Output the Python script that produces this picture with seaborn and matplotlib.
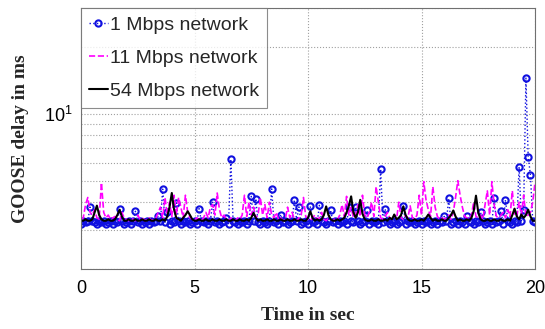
import numpy as np
import pandas as pd
import matplotlib
matplotlib.use("Agg")
import matplotlib.pyplot as plt
import seaborn as sns
from matplotlib.ticker import LogLocator, NullFormatter, FixedLocator, FixedFormatter

# ---------------- data (GOOSE delay in ms, sampled every 0.1 s) ----------------
sample_step = 0.1
delay_1mbps = [
    3.2, 3.3, 3.25, 3.3, 3.8, 3.3, 3.25, 3.2, 3.3, 3.25,
    3.3, 3.2, 3.25, 3.3, 3.2, 3.3, 3.25, 3.73, 3.3, 3.2,
    3.25, 3.3, 3.2, 3.3, 3.64, 3.25, 3.3, 3.2, 3.25, 3.3,
    3.2, 3.3, 3.25, 3.3, 3.45, 3.3, 4.58, 3.25, 3.6, 3.2,
    3.3, 3.25, 3.97, 3.3, 3.2, 3.3, 3.25, 3.3, 3.2, 3.25,
    3.3, 3.2, 3.74, 3.3, 3.25, 3.3, 3.2, 3.3, 4.0, 3.25,
    3.3, 3.2, 3.25, 3.3, 3.38, 3.2, 6.24, 3.3, 3.25, 3.2,
    3.3, 3.25, 3.3, 3.2, 3.3, 4.25, 3.3, 4.15, 3.25, 3.2,
    3.3, 3.25, 3.2, 3.3, 4.59, 3.25, 3.3, 3.2, 3.52, 3.25,
    3.3, 3.2, 3.25, 3.3, 4.1, 3.3, 3.81, 3.2, 3.25, 3.3,
    3.2, 3.83, 3.25, 3.3, 3.2, 3.87, 3.3, 3.25, 3.2, 3.3,
    3.68, 3.25, 3.3, 3.2, 3.3, 3.25, 3.3, 3.2, 3.81, 3.3,
    3.25, 3.81, 3.3, 3.2, 3.25, 3.3, 3.67, 3.2, 3.3, 3.25,
    3.3, 3.2, 5.64, 3.25, 3.73, 3.3, 3.2, 3.25, 3.3, 3.2,
    3.25, 3.3, 3.83, 3.2, 3.3, 3.25, 3.3, 3.2, 3.25, 3.3,
    3.2, 3.3, 3.25, 3.3, 3.2, 3.25, 3.3, 3.2, 3.3, 3.25,
    3.45, 3.3, 4.16, 3.2, 3.25, 3.3, 3.2, 3.3, 3.25, 3.2,
    3.45, 3.3, 3.25, 3.2, 3.3, 3.25, 3.6, 3.3, 3.2, 3.25,
    3.3, 3.2, 4.16, 3.25, 3.3, 3.64, 3.2, 4.1, 3.3, 3.25,
    3.2, 3.3, 3.25, 5.78, 3.3, 3.7, 14.5, 6.4, 5.3, 3.3,
    3.25,
]
delay_11mbps = [
    3.35, 3.4, 3.9, 4.2, 3.6, 3.5, 3.7, 3.4, 3.35, 4.9,
    3.6, 3.4, 3.5, 3.35, 3.4, 3.45, 3.35, 3.3, 3.6, 3.4,
    3.35, 3.3, 3.4, 3.35, 3.3, 3.5, 3.35, 3.4, 3.3, 3.35,
    3.4, 3.3, 3.35, 3.4, 3.6, 3.8, 3.4, 4.2, 3.5, 4.0,
    3.45, 4.3, 3.5, 4.2, 3.8, 3.4, 4.3, 3.6, 3.4, 3.35,
    3.3, 3.4, 3.35, 3.3, 3.4, 3.6, 3.4, 3.8, 3.9, 3.5,
    4.4, 3.7, 3.4, 3.5, 3.35, 3.3, 3.4, 3.35, 3.3, 3.4,
    3.35, 3.5, 4.3, 3.45, 4.0, 3.5, 3.8, 3.4, 3.5, 4.2,
    3.5, 3.9, 3.4, 4.0, 3.5, 3.4, 3.6, 3.35, 3.4, 3.3,
    3.35, 3.8, 3.4, 3.6, 3.35, 3.3, 3.4, 3.5, 4.2, 3.45,
    3.35, 3.3, 3.4, 3.5, 3.35, 3.4, 3.6, 3.35, 3.3, 3.4,
    3.35, 3.3, 3.4, 3.35, 3.5, 3.9, 3.45, 4.25, 3.5, 3.8,
    3.4, 3.5, 3.9, 3.45, 4.3, 3.5, 3.4, 3.6, 4.0, 3.45,
    4.7, 4.0, 3.4, 3.35, 3.45, 3.6, 3.4, 3.35, 3.5, 3.35,
    4.0, 3.4, 3.35, 3.5, 3.4, 3.85, 3.4, 3.35, 3.5, 4.3,
    3.5, 4.95, 4.1, 3.7, 3.45, 4.7, 3.8, 3.45, 3.35, 3.4,
    3.35, 3.4, 3.5, 3.35, 3.6, 4.2, 5.0, 4.3, 3.8, 3.45,
    3.4, 3.35, 3.5, 4.0, 3.45, 3.4, 3.5, 3.35, 3.9, 4.5,
    3.5, 4.95, 3.9, 3.45, 3.4, 3.5, 3.6, 3.4, 3.7, 3.45,
    4.5, 3.5, 3.45, 4.0, 3.5, 4.3, 3.45, 3.5, 3.6, 4.0,
    4.9,
]
delay_54mbps = [
    3.3, 3.3, 3.35, 3.3, 3.3, 3.35, 3.6, 3.86, 3.5, 3.35,
    3.3, 3.3, 3.35, 3.3, 3.3, 3.35, 3.5, 3.7, 3.45, 3.3,
    3.3, 3.35, 3.3, 3.3, 3.35, 3.3, 3.3, 3.35, 3.3, 3.3,
    3.35, 3.3, 3.3, 3.35, 3.3, 3.3, 3.35, 3.3, 3.45, 3.8,
    4.4, 3.7, 3.4, 3.35, 3.3, 3.4, 3.5, 3.64, 3.5, 3.35,
    3.3, 3.3, 3.35, 3.3, 3.3, 3.35, 3.3, 3.3, 3.35, 3.3,
    3.3, 3.35, 3.3, 3.3, 3.35, 3.3, 3.3, 3.35, 3.3, 3.3,
    3.35, 3.3, 3.3, 3.35, 3.3, 3.4, 3.58, 3.4, 3.3, 3.35,
    3.3, 3.3, 3.35, 3.3, 3.3, 3.35, 3.3, 3.3, 3.35, 3.3,
    3.3, 3.35, 3.3, 3.3, 3.35, 3.3, 3.3, 3.35, 3.3, 3.3,
    3.4, 3.64, 3.4, 3.3, 3.35, 3.3, 3.35, 3.5, 3.83, 3.5,
    3.35, 3.3, 3.3, 3.35, 3.3, 3.35, 3.4, 3.6, 3.85, 4.25,
    3.6, 3.4, 3.6, 4.1, 3.55, 3.35, 3.3, 3.3, 3.35, 3.3,
    3.3, 3.35, 3.3, 3.3, 3.35, 3.3, 3.4, 3.35, 3.52, 3.35,
    3.4, 3.5, 3.83, 3.5, 3.35, 3.3, 3.3, 3.35, 3.3, 3.3,
    3.35, 3.3, 3.4, 3.52, 3.4, 3.3, 3.35, 3.3, 3.3, 3.35,
    3.3, 3.3, 3.4, 3.5, 3.67, 3.45, 3.3, 3.35, 3.3, 3.3,
    3.35, 3.3, 3.4, 3.65, 4.28, 3.6, 3.35, 3.3, 3.3, 3.35,
    3.3, 3.3, 3.35, 3.3, 3.3, 3.35, 3.3, 3.3, 3.35, 3.3,
    3.5, 3.74, 3.45, 3.35, 3.52, 3.4, 3.5, 3.7, 3.45, 3.3,
    3.3,
]
series_labels = ["1 Mbps network", "11 Mbps network", "54 Mbps network"]
x_ticks = [0, 5, 10, 15, 20]
x_label = "Time in sec"
y_label = "GOOSE delay in ms"

time_s = np.round(np.arange(len(delay_1mbps)) * sample_step, 2)

# ---------------- style ----------------
sns.set_theme(style="white")
plt.rcParams["font.family"] = ["Liberation Sans", "DejaVu Sans"]
plt.rcParams["mathtext.fontset"] = "custom"
plt.rcParams["mathtext.rm"] = "Liberation Sans"
plt.rcParams["mathtext.it"] = "Liberation Sans"

fig = plt.figure(figsize=(5.45, 3.29), dpi=100)
ax = fig.add_axes([81 / 545, 1 - 269 / 329, 454 / 545, 261 / 329])

df1 = pd.DataFrame({"t": time_s, "d": delay_1mbps})
df11 = pd.DataFrame({"t": time_s, "d": delay_11mbps})
df54 = pd.DataFrame({"t": time_s, "d": delay_54mbps})

sns.lineplot(data=df1, x="t", y="d", ax=ax, color="#1010e0", linestyle=":",
             linewidth=1.0, marker="o", markersize=4.5, markerfacecolor="none",
             markeredgecolor="#1010e0", markeredgewidth=1.5,
             label=series_labels[0], estimator=None, sort=False)
sns.lineplot(data=df11, x="t", y="d", ax=ax, color="#ff00ff", linestyle="--",
             linewidth=1.2, label=series_labels[1], estimator=None, sort=False)
sns.lineplot(data=df54, x="t", y="d", ax=ax, color="black", linestyle="-",
             linewidth=1.5, label=series_labels[2], estimator=None, sort=False)

ax.set_yscale("log")
ax.set_xlim(0, 20)
ax.set_ylim(2, 30)
ax.xaxis.set_major_locator(FixedLocator(x_ticks))
ax.yaxis.set_major_locator(FixedLocator([10]))
ax.yaxis.set_major_formatter(FixedFormatter([r"$\mathregular{10^{1}}$"]))
ax.yaxis.set_minor_locator(LogLocator(base=10, subs=np.arange(2, 10)))
ax.yaxis.set_minor_formatter(NullFormatter())

ax.grid(True, which="major", axis="both", linestyle=":", color="#a0a0a0", linewidth=0.8)
ax.grid(True, which="minor", axis="y", linestyle=":", color="#a0a0a0", linewidth=0.8)

ax.tick_params(axis="both", which="both", direction="in", labelsize=13,
               colors="#606060", labelcolor="black")
ax.tick_params(axis="both", which="major", length=4)
ax.tick_params(axis="y", which="minor", length=2)
ax.tick_params(axis="x", pad=8)
ax.tick_params(axis="y", pad=6)
for s in ax.spines.values():
    s.set_color("#707070")
    s.set_linewidth(0.8)

ax.set_xlabel(x_label, fontsize=14, fontweight="bold",
              family=["Liberation Serif", "DejaVu Serif"], labelpad=7)
ax.set_ylabel(y_label, fontsize=14, fontweight="bold",
              family=["Liberation Serif", "DejaVu Serif"], labelpad=11)

leg = ax.legend(loc="upper left", fontsize=14, frameon=True, fancybox=False,
                borderaxespad=0, handlelength=0.95, handletextpad=0.12,
                labelspacing=0.8, borderpad=0.42)
leg.get_frame().set_edgecolor("#707070")
leg.get_frame().set_linewidth(0.8)

fig.savefig("out.png", dpi=100)
